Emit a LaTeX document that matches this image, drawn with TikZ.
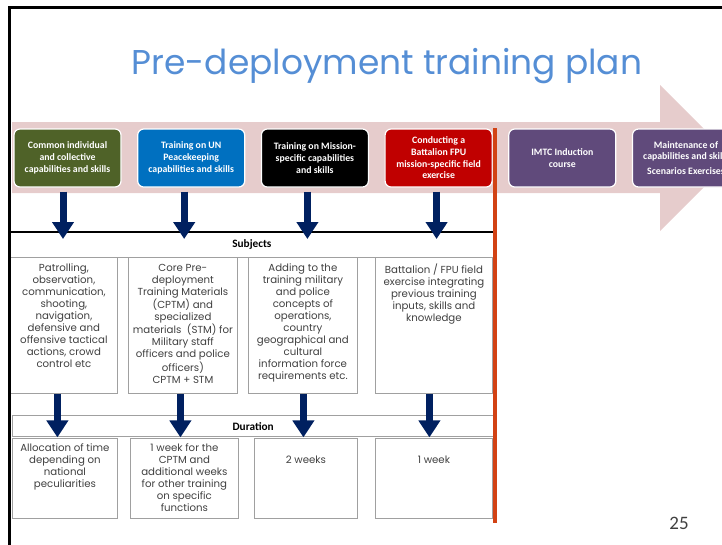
\documentclass[tikz,border=0pt]{standalone}
\usepackage{fontspec}
\setmainfont{Carlito}
\newfontfamily\gothfont{Poppins}
\usetikzlibrary{arrows.meta,positioning}
\definecolor{bandpink}{RGB}{230,204,204}
\definecolor{stgreen}{RGB}{79,98,40}
\definecolor{stblue}{RGB}{0,112,192}
\definecolor{stred}{RGB}{192,0,0}
\definecolor{stpurple}{RGB}{96,74,123}
\definecolor{arrownavy}{RGB}{0,32,96}
\definecolor{rulered}{RGB}{210,66,20}
\definecolor{titleblue}{RGB}{85,142,213}
\definecolor{celltextgray}{RGB}{64,64,64}
\definecolor{cellgray}{RGB}{160,160,160}

\begin{document}
\begin{tikzpicture}[x=1pt,y=-1pt,
  stage/.style={rounded corners=6pt, draw=white, line width=1.2pt,
    minimum width=107pt, minimum height=58pt, inner sep=1pt,
    text=white, align=center, font=\fontsize{9.8}{11.7}\selectfont\bfseries},
  headrow/.style={draw=cellgray, line width=0.8pt, anchor=north west,
    font=\fontsize{11.3}{12}\selectfont\bfseries},
  cellbox/.style={draw=cellgray, line width=0.8pt, anchor=north west},
  celltext/.style={inner sep=0pt, align=center, text=celltextgray,
    font=\gothfont\fontsize{10.2}{12}\selectfont},
  downarrow/.style={draw=arrownavy, line width=7pt,
    -{Triangle[width=21pt,length=17pt]}}
]
\clip (0,0) rectangle (722,544);

% title
\node[font=\gothfont\fontsize{34.4}{34}\selectfont, text=titleblue] (title) at (387,66) {Pre-deployment training plan};

% big arrow band
\fill[bandpink] (12,122) -- (660,122) -- (660,85) -- (733,158)
  -- (660,231) -- (660,193) -- (12,193) -- cycle;

% stages
\node[stage, fill=stgreen] (b1) at (67.5,158) {Common individual\\and collective\\capabilities and skills};
\node[stage, fill=stblue, right=15.5pt of b1] (b2) {Training on UN\\Peacekeeping\\capabilities and skills};
\node[stage, fill=black, right=15.5pt of b2] (b3) {Training on Mission-\\specific capabilities\\and skills};
\node[stage, fill=stred, right=15.5pt of b3] (b4) {Conducting a\\Battalion FPU\\mission-specific field\\exercise};
\node[stage, fill=stpurple, right=15.5pt of b4] (b5) {IMTC Induction\\course};
\node[stage, fill=stpurple, right=15.5pt of b5] (b6) {Maintenance of\\capabilities and skills\\[3pt]Scenarios Exercises};

% subjects
\node[headrow, minimum width=483pt, minimum height=25pt] (subj) at (10,232) {Subjects};
\draw[line width=1.5pt] (subj.north west) -- (subj.north east);
\node[cellbox, minimum width=107pt, minimum height=136pt] (s1) at (10,257) {};
\node[cellbox, minimum width=109pt, minimum height=136pt] (s2) at (128,257) {};
\node[cellbox, minimum width=109pt, minimum height=136pt] (s3) at (248,257) {};
\node[cellbox, minimum width=117pt, minimum height=136pt] (s4) at (375,257) {};
\node[celltext, below=7pt of s1.north] (t1) {Patrolling,\\observation,\\communication,\\shooting,\\navigation,\\defensive and\\offensive tactical\\actions, crowd\\control etc};
\node[celltext, below=7pt of s2.north] (t2) {Core Pre-\\deployment\\Training Materials\\(CPTM) and\\specialized\\materials\ \ (STM) for\\Military staff\\officers and police\\officers)\\CPTM + STM};
\node[celltext, below=7pt of s3.north] (t3) {Adding to the\\training military\\and police\\concepts of\\operations,\\country\\geographical and\\cultural\\information force\\requirements etc.};
\node[celltext, below=7pt of s4.north] (t4) {Battalion / FPU field\\exercise integrating\\previous training\\inputs, skills and\\knowledge};

% duration
\node[headrow, line width=1.4pt, minimum width=481pt, minimum height=21pt] (dur) at (12,415) {Duration};
\node[cellbox, minimum width=105pt, minimum height=80pt] (d1) at (12,438) {};
\node[cellbox, minimum width=108pt, minimum height=80pt] (d2) at (130,438) {};
\node[cellbox, minimum width=103pt, minimum height=80pt] (d3) at (254,438) {};
\node[cellbox, minimum width=117pt, minimum height=80pt] (d4) at (375,438) {};
\node[celltext, below=5pt of d1.north] (u1) {Allocation of time\\depending on\\national\\peculiarities};
\node[celltext, below=5pt of d2.north] (u2) {1 week for the\\CPTM and\\additional weeks\\for other training\\on specific\\functions};
\node[celltext, below=18pt of d3.north] (u3) {2 weeks};
\node[celltext, below=18pt of d4.north] (u4) {1 week};

% arrows
\draw[downarrow, shorten >=-7pt] ([xshift=-4.5pt,yshift=-4pt]b1.south) -- ([xshift=-4.5pt]b1.south |- subj.north);
\draw[downarrow, shorten >=-7pt] ([xshift=-7pt,yshift=-4pt]b2.south) -- ([xshift=-7pt]b2.south |- subj.north);
\draw[downarrow, shorten >=-7pt] ([xshift=-7.5pt,yshift=-4pt]b3.south) -- ([xshift=-7.5pt]b3.south |- subj.north);
\draw[downarrow, shorten >=-7pt] ([xshift=-2pt,yshift=-4pt]b4.south) -- ([xshift=-2pt]b4.south |- subj.north);
\draw[downarrow] ([xshift=-6.5pt]s1.south) -- ([xshift=-6.5pt]s1.south |- dur.south);
\draw[downarrow] ([xshift=-2.5pt]s2.south) -- ([xshift=-2.5pt]s2.south |- dur.south);
\draw[downarrow] ([xshift=0.5pt]s3.south) -- ([xshift=0.5pt]s3.south |- dur.south);
\draw[downarrow] ([xshift=-4.5pt]s4.south) -- ([xshift=-4.5pt]s4.south |- dur.south);

% divider
\draw[rulered, line width=4pt] (495,128) -- (495,523);

% slide frame
\draw[line width=2.6pt] (9.5,560) -- (9.5,7.3) -- (740,7.3);

\node[font=\fontsize{19}{19}\selectfont, text=celltextgray] (pnum) at (679,523) {25};
\end{tikzpicture}
\end{document}
